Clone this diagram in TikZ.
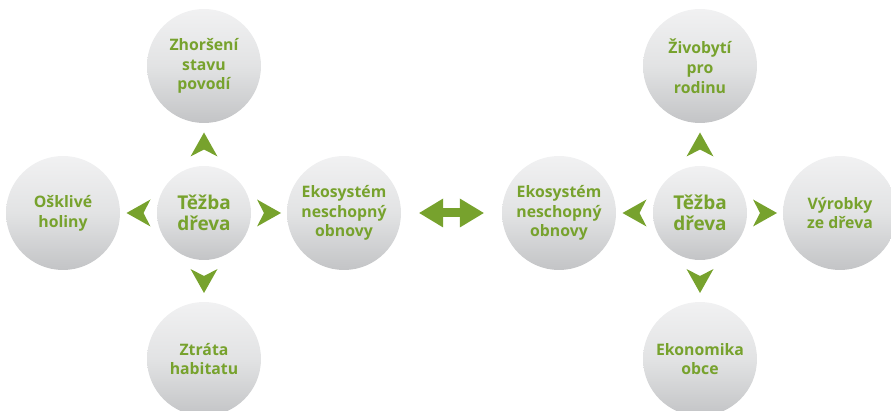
\documentclass[tikz,border=0pt]{standalone}
\usepackage{fontspec}
\setmainfont{Open Sans}
\usetikzlibrary{calc,arrows.meta}
\definecolor{leaf}{HTML}{77A22D}
\definecolor{ctop}{HTML}{F1F1F2}
\definecolor{cmid}{HTML}{E2E3E4}
\definecolor{cbot}{HTML}{C3C4C6}
\begin{document}
\begin{tikzpicture}[x=1pt,y=-1pt,
  bubble/.style={circle, minimum size=114pt, inner sep=0pt, top color=ctop, bottom color=cbot, middle color=cmid, draw=none, align=center, text=leaf, font=\bfseries\fontsize{15.8}{19.8}\selectfont},
  hub/.style={bubble, minimum size=94pt, font=\bfseries\fontsize{19}{21.5}\selectfont},
  chev/.pic={\fill[leaf] (12,0) -- (-12,13.5) -- (-5,0) -- (-12,-13.5) -- cycle;},
  dbl/.style={leaf, line width=9pt,
    {Triangle[width=29pt,length=24pt,line width=0pt]}-{Triangle[width=29pt,length=24pt,line width=0pt]},
    shorten <=18pt, shorten >=18pt}
]
\useasboundingbox (0,0) rectangle (891,411);
% left cluster
\node[hub] (L) at (204,213) {Těžba\\dřeva};
\node[bubble] (Lt) at (204,66) {Zhoršení\\stavu\\povodí};
\node[bubble] (Lb) at (204,359) {Ztráta\\habitatu};
\node[bubble] (Ll) at (63,213) {Ošklivé\\holiny};
\node[bubble] (Lr) at (344,213) {Ekosystém\\neschopný\\obnovy};
% right cluster
\node[hub] (R) at (700,213) {Těžba\\dřeva};
\node[bubble] (Rt) at (700,66) {Živobytí\\pro\\rodinu};
\node[bubble] (Rb) at (700,359) {Ekonomika\\obce};
\node[bubble] (Rl) at (559,213) {Ekosystém\\neschopný\\obnovy};
\node[bubble] (Rr) at (840,213) {Výrobky\\ze dřeva};
% chevrons
\pic[rotate=90] at ($(L.north)!0.5!(Lt.south)$) {chev};
\pic[rotate=-90] at ($(L.south)!0.5!(Lb.north)$) {chev};
\pic[rotate=180] at ($(L.west)!0.5!(Ll.east)$) {chev};
\pic at ($(L.east)!0.5!(Lr.west)$) {chev};
\pic[rotate=90] at ($(R.north)!0.5!(Rt.south)$) {chev};
\pic[rotate=-90] at ($(R.south)!0.5!(Rb.north)$) {chev};
\pic[rotate=180] at ($(R.west)!0.5!(Rl.east)$) {chev};
\pic at ($(R.east)!0.5!(Rr.west)$) {chev};
% double arrow
\draw[dbl] (Lr) -- (Rl);
\end{tikzpicture}
\end{document}
